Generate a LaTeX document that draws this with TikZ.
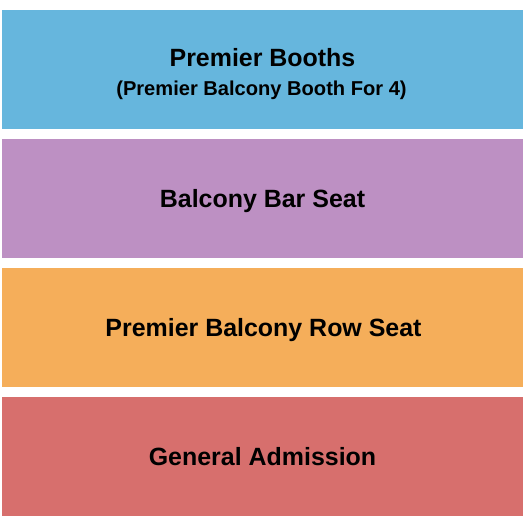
\documentclass[tikz,border=0pt]{standalone}
\usepackage{fontspec}
\setmainfont{Liberation Sans}
\definecolor{boothblue}{HTML}{66B6DD}
\definecolor{barpurple}{HTML}{BD90C3}
\definecolor{roworange}{HTML}{F5AE5A}
\definecolor{genred}{HTML}{D76F6D}
\begin{document}
\begin{tikzpicture}[x=1pt,y=-1pt]
        %
        % `band' is used for the coloured sections.
        % `title' and `subtitle' are used for the section labels.
        \tikzstyle{band} = [draw=none,minimum width=521pt,minimum height=118.7pt,inner sep=0pt,outer sep=0pt]
        \tikzstyle{title} = [anchor=base,inner sep=0pt,font=\fontsize{24.95}{28}\selectfont\bfseries]
        \tikzstyle{subtitle} = [anchor=base,inner sep=0pt,font=\fontsize{20.1}{23}\selectfont\bfseries]
        %
        % Page
        \useasboundingbox[fill=white] (0,0) rectangle (525,525);
        %
        % Sections
        \node[band,fill=boothblue] (booths) at (262.5,69.35) {};
        \node[band,fill=barpurple] (bar) at (262.5,198.35) {};
        \node[band,fill=roworange] (row) at (262.5,327.35) {};
        \node[band,fill=genred] (general) at (262.5,456.35) {};
        %
        % Labels
        \node[title] (booths title) at (262.5,66.7) {Premier Booths};
        \node[subtitle] (booths sub) at (261.5,95) {(Premier Balcony Booth For 4)};
        \node[title] (bar title) at (262.5,207) {Balcony Bar Seat};
        \node[title] (row title) at (263.5,336.6) {Premier Balcony Row Seat};
        \node[title] (general title) at (262.5,465.3) {General Admission};
        %
\end{tikzpicture}
\end{document}
